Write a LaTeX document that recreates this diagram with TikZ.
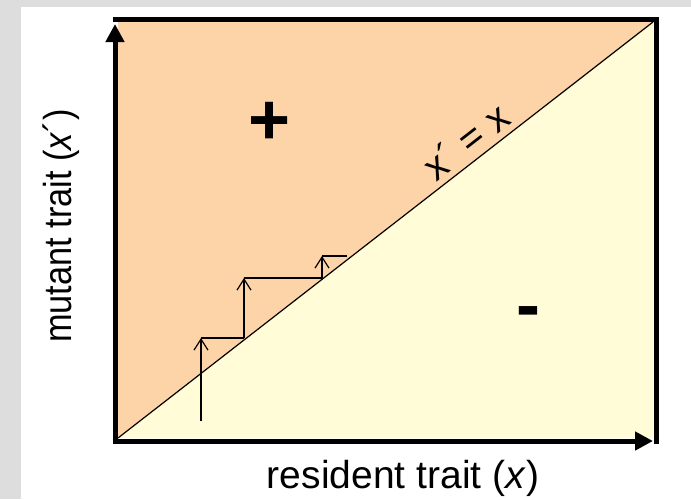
\documentclass[tikz,border=0pt]{standalone}
\usepackage{fontspec}
\setmainfont{Liberation Sans}
\usepackage{xcolor}
\usepackage{tikz}
\usetikzlibrary{arrows.meta}
\definecolor{cfondo}{HTML}{DDDDDD}
\definecolor{cmas}{HTML}{FDD3A8}
\definecolor{cmenos}{HTML}{FFFCD7}
\tikzset{
  rotulo/.style={font=\fontsize{39}{46}\selectfont, inner sep=0pt},
  signo/.style={font=\fontsize{72}{80}\selectfont\bfseries, inner sep=0pt},
  eje/.style={line width=5pt, -{Triangle[length=18pt, width=18pt]}},
  borde/.style={line width=5pt},
  paso/.style={line width=1.2pt, -{Straight Barb[length=11pt, width=14pt]}},
  tramo/.style={line width=1.2pt},
}

\begin{document}
\begin{tikzpicture}[x=1pt, y=-1pt]
  \useasboundingbox (0,0) rectangle (691,499);
  \fill[cfondo] (0,0) rectangle (691,499);
  \fill[white] (21,7) rectangle (691,499);

  % esquinas del cuadro
  \coordinate (o) at (115,441);
  \coordinate (tl) at (115,19);
  \coordinate (tr) at (656,19);
  \coordinate (br) at (656,441);
  \coordinate (a) at (118,438);
  \coordinate (b) at (653,22);

  % regiones
  \fill[cmas] (a) -- (118,22) -- (b) -- cycle;
  \fill[cmenos] (a) -- (b) -- (653,438) -- cycle;
  \draw[line width=1.2pt] (a) -- (b)
    node[pos=0.674, sloped, above=6pt, rotulo] (diag) {x´ = x};

  % marco y ejes
  \draw[borde] (112.5,19) -- (tr) -- (656,443.5);
  \draw[eje] (115,443.5) -- (115,24);
  \draw[eje] (112.5,441) -- (653,441);

  % escalera
  \coordinate (s0) at (201,421);
  \coordinate (s1) at (201,338);
  \coordinate (s2) at (244,338);
  \coordinate (s3) at (244,278);
  \coordinate (s4) at (322,278);
  \coordinate (s5) at (322,256);
  \coordinate (s6) at (347,256);
  \draw[paso] (s0) -- (s1);
  \draw[tramo] (s1) -- (s2);
  \draw[paso] (s2) -- (s3);
  \draw[tramo] (s3) -- (s4);
  \draw[paso] (s4) -- (s5);
  \draw[tramo] (s5) -- (s6);

  \node[signo] (mas) at (270,123) {+};
  \node[signo] (menos) at (528,318) {-};

  \node[rotulo] (xlab) at (403,478) {resident trait (\textit{x})};
  \node[rotulo, rotate=90, xscale=0.88] (ylab) at (61,226) {mutant trait (\textit{x}´)};
\end{tikzpicture}
\end{document}
